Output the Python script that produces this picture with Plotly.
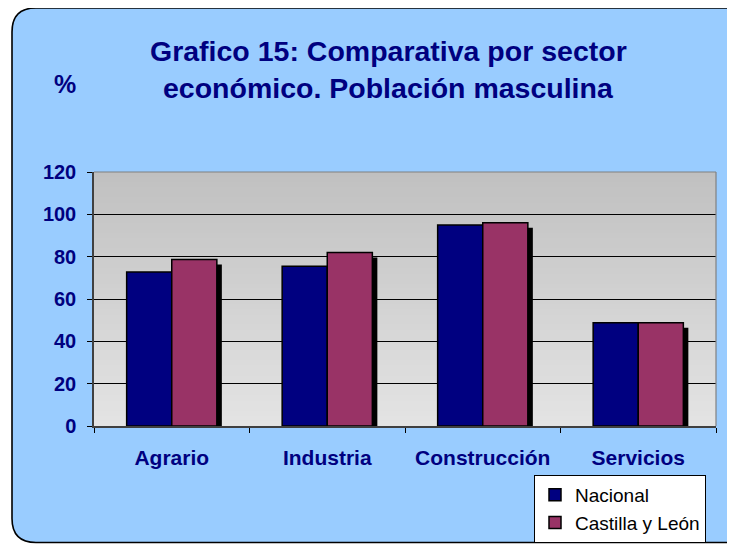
import plotly.graph_objects as go

# ---- data ----
categories = ["Agrario", "Industria", "Construcción", "Servicios"]
nacional = [72.8, 75.5, 95.0, 48.8]
castilla_leon = [78.7, 82.0, 96.0, 48.8]
y_ticks = [0, 20, 40, 60, 80, 100, 120]
title_line1 = "Grafico 15: Comparativa por sector"
title_line2 = "económico. Población masculina"

# ---- layout geometry ----
# target positions are given in page pixels; the page adds an 8px body margin
OFF = 8
W, H = 735 - OFF, 545 - OFF
L, R, T, B = 94, 716, 172, 426  # plot area in page pixels


def px(x):
    return (x - L) / (R - L)


def py(y):
    return (B - y) / (B - T)


NAVY = "#000080"
MAROON = "#993366"
FONT = "Liberation Sans"

bar_w = 0.29
shadow_dx = 5 / ((R - L) / 4)
shadow_dy = 5 * 120 / (B - T)

fig = go.Figure()
# shadow behind the Castilla y León bars
fig.add_trace(go.Bar(
    x=categories, y=castilla_leon, xaxis="x", yaxis="y",
    width=bar_w, offset=shadow_dx,
    marker=dict(color="black", line=dict(width=0)),
    showlegend=False, hoverinfo="skip"))
fig.add_trace(go.Bar(
    name="Nacional", x=categories, y=nacional, xaxis="x", yaxis="y2",
    width=bar_w, offset=-bar_w,
    marker=dict(color=NAVY, line=dict(color="black", width=1.5))))
fig.add_trace(go.Bar(
    name="Castilla y León", x=categories, y=castilla_leon, xaxis="x", yaxis="y2",
    width=bar_w, offset=0,
    marker=dict(color=MAROON, line=dict(color="black", width=1.5))))


# ---- background shapes ----
def rounded_rect(x0, y0, x1, y1, r):
    pts = [
        ("M", [(x0 + r, y0)]),
        ("L", [(x1 - r, y0)]),
        ("Q", [(x1, y0), (x1, y0 + r)]),
        ("L", [(x1, y1 - r)]),
        ("Q", [(x1, y1), (x1 - r, y1)]),
        ("L", [(x0 + r, y1)]),
        ("Q", [(x0, y1), (x0, y1 - r)]),
        ("L", [(x0, y0 + r)]),
        ("Q", [(x0, y0), (x0 + r, y0)]),
    ]
    s = ""
    for cmd, ps in pts:
        s += cmd + " " + " ".join(f"{px(a):.5f},{py(b):.5f}" for a, b in ps) + " "
    return s + "Z"


shapes = [dict(type="path", xref="paper", yref="paper",
               path=rounded_rect(12, 8, 752, 542.5, 24),
               fillcolor="#99CCFF", line=dict(color="black", width=1.6),
               layer="below"),
          dict(type="rect", xref="paper", yref="paper", x0=0, x1=1, y0=0, y1=1,
               fillcolor="rgb(210,210,210)", line=dict(width=0), layer="below")]
N = 50
c_top, c_bot = 192, 228
for i in range(N):
    f = (i + 0.5) / N
    c = round(c_bot + (c_top - c_bot) * f)
    shapes.append(dict(type="rect", xref="paper", yref="paper",
                       x0=0, x1=1, y0=i / N, y1=min(1, (i + 1.6) / N),
                       fillcolor=f"rgb({c},{c},{c})", line=dict(width=0),
                       layer="below"))
# gray top & right border of plot area
shapes.append(dict(type="line", xref="paper", yref="paper", x0=0, x1=1, y0=1, y1=1,
                   line=dict(color="#808080", width=1.2), layer="above"))
shapes.append(dict(type="line", xref="paper", yref="paper", x0=1, x1=1, y0=0, y1=1,
                   line=dict(color="#808080", width=1.2), layer="above"))

annotations = [
    dict(text=title_line1, xref="paper", yref="paper", x=px(388), y=py(51),
         showarrow=False, xanchor="center", yanchor="middle",
         font=dict(family=FONT, size=28.5, color=NAVY, weight="bold")),
    dict(text=title_line2, xref="paper", yref="paper", x=px(388), y=py(88),
         showarrow=False, xanchor="center", yanchor="middle",
         font=dict(family=FONT, size=28.5, color=NAVY, weight="bold")),
    dict(text="%", xref="paper", yref="paper", x=px(65), y=py(84),
         showarrow=False, xanchor="center", yanchor="middle",
         font=dict(family=FONT, size=25, color=NAVY, weight="bold")),
]

fig.update_layout(
    width=W, height=H,
    margin=dict(l=L - OFF, r=W - (R - OFF), t=T - OFF, b=H - (B - OFF),
                autoexpand=False),
    paper_bgcolor="white", plot_bgcolor="rgba(0,0,0,0)",
    barmode="group",
    shapes=shapes, annotations=annotations,
    showlegend=True,
    legend=dict(x=px(706), y=py(475), xanchor="right", yanchor="top",
                bgcolor="white", bordercolor="black", borderwidth=1,
                itemwidth=30,
                font=dict(family=FONT, size=19, color="black")),
    xaxis=dict(type="category", range=[-0.5, 3.5], tickson="boundaries",
               ticks="outside", ticklen=5, tickcolor="black",
               showline=True, linecolor="#404040", linewidth=1.5,
               showgrid=False, zeroline=False, ticklabelstandoff=12,
               tickfont=dict(family=FONT, size=21, color=NAVY, weight="bold")),
    yaxis=dict(range=[shadow_dy, 120 + shadow_dy], visible=False,
               showgrid=False, zeroline=False),
    yaxis2=dict(overlaying="y", side="left", range=[0, 120], tickvals=y_ticks,
                showgrid=True, gridcolor="black", gridwidth=1,
                showline=True, linecolor="#404040", linewidth=1.5,
                ticks="outside", ticklen=5, tickcolor="black",
                zeroline=False, ticklabelstandoff=7,
                tickfont=dict(family=FONT, size=20, color=NAVY, weight="bold")),
    font=dict(family=FONT),
)

fig.write_html("out.html")
